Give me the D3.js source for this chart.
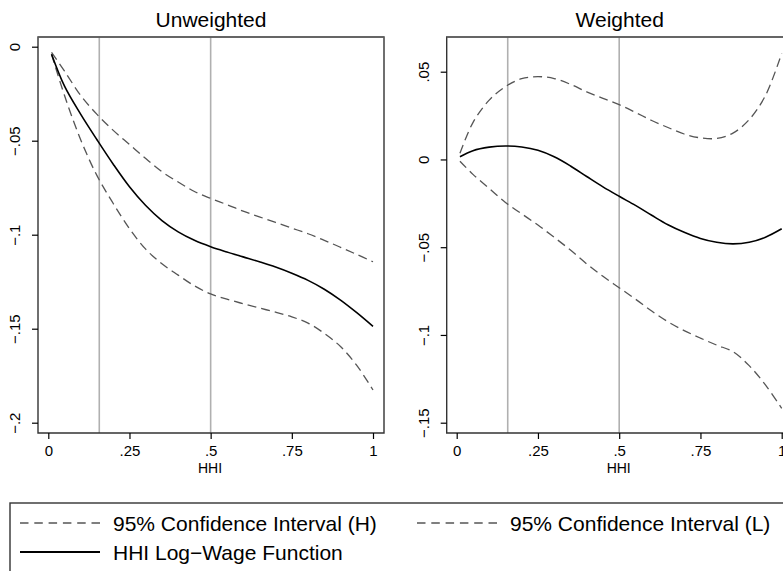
<!DOCTYPE html>
<html>
<head>
<meta charset="utf-8">
<script src="https://cdn.jsdelivr.net/npm/d3@7"></script>
<style>
  html, body { margin: 0; padding: 0; background: #fff; overflow: hidden; }
  svg { display: block; font-family: "Liberation Sans", Arial, Helvetica, sans-serif; }
</style>
</head>
<body>
<svg id="chart" width="783" height="571"></svg>
<script>
// ---- data ----
const hhi = [0.01, 0.05, 0.10, 0.15, 0.20, 0.25, 0.30, 0.35, 0.40, 0.45, 0.50,
             0.55, 0.60, 0.65, 0.70, 0.75, 0.80, 0.85, 0.90, 0.95, 1.00];

const unwMain = [-0.004, -0.021, -0.036, -0.0495, -0.0625, -0.0745, -0.0845, -0.0925, -0.0985, -0.1030, -0.1064,
                 -0.1092, -0.1118, -0.1144, -0.1172, -0.1205, -0.1243, -0.1290, -0.1348, -0.1415, -0.1488];
const unwHigh = [-0.003, -0.013, -0.026, -0.036, -0.0445, -0.052, -0.0595, -0.0665, -0.072, -0.077, -0.0807,
                 -0.084, -0.0875, -0.0905, -0.0935, -0.0965, -0.0995, -0.103, -0.1067, -0.1105, -0.1144];
const unwLow  = [-0.004, -0.026, -0.0496, -0.0686, -0.0834, -0.0968, -0.1077, -0.1155, -0.1215, -0.1272, -0.1315,
                 -0.1343, -0.1367, -0.139, -0.1412, -0.1437, -0.147, -0.1525, -0.1595, -0.1695, -0.1826];

const wMain = [0.0015, 0.0050, 0.0070, 0.0077, 0.0071, 0.0052, 0.0015, -0.0037, -0.0097, -0.0156, -0.0210,
               -0.0262, -0.0318, -0.0372, -0.0415, -0.0450, -0.0472, -0.0481, -0.0472, -0.0443, -0.0395];
const wHigh = [0.0035, 0.021, 0.0338, 0.0415, 0.046, 0.0472, 0.0461, 0.0428, 0.0385, 0.0348, 0.0312,
               0.0268, 0.0222, 0.0182, 0.0145, 0.0123, 0.0120, 0.0150, 0.0227, 0.0364, 0.0605];
const wLow  = [-0.001, -0.0085, -0.0165, -0.0245, -0.031, -0.0374, -0.0444, -0.0516, -0.0595, -0.0666, -0.0731,
               -0.0796, -0.0864, -0.0925, -0.0975, -0.1018, -0.1058, -0.1095, -0.1175, -0.1285, -0.1418];

const refLines = [0.157, 0.5];
const xTicks = [0, 0.25, 0.5, 0.75, 1];
const xTickLabels = ["0", ".25", ".5", ".75", "1"];
const unwYTicks = [0, -0.05, -0.1, -0.15, -0.2];
const unwYTickLabels = ["0", "\u2212.05", "\u2212.1", "\u2212.15", "\u2212.2"];
const wYTicks = [0.05, 0, -0.05, -0.1, -0.15];
const wYTickLabels = [".05", "0", "\u2212.05", "\u2212.1", "\u2212.15"];
const panelTitles = ["Unweighted", "Weighted"];
const xTitle = "HHI";
const legendLabels = ["95% Confidence Interval (H)", "95% Confidence Interval (L)", "HHI Log\u2212Wage Function"];

// ---- layout ----
const svg = d3.select("#chart");
const boxTop = 37, boxBottom = 433;

const panels = [
  { title: panelTitles[0], boxL: 38, boxR: 384, x0: 48.3, x1: 373,
    yDom: [0, -0.2], yRange: [46.7, 422.7], yTicks: unwYTicks, yLabels: unwYTickLabels,
    main: unwMain, high: unwHigh, low: unwLow },
  { title: panelTitles[1], boxL: 446.7, boxR: 792.7, x0: 456.7, x1: 781.7,
    yDom: [0.05, -0.15], yRange: [71.7, 422.7], yTicks: wYTicks, yLabels: wYTickLabels,
    main: wMain, high: wHigh, low: wLow }
];

const dashColor = "#555";
const dashPattern = "9,5";

panels.forEach(p => {
  const x = d3.scaleLinear().domain([0, 1]).range([p.x0, p.x1]);
  const y = d3.scaleLinear().domain(p.yDom).range(p.yRange);
  const g = svg.append("g");

  // reference lines
  g.selectAll("line.ref").data(refLines).join("line")
    .attr("class", "ref")
    .attr("x1", d => x(d)).attr("x2", d => x(d))
    .attr("y1", boxTop).attr("y2", boxBottom)
    .attr("stroke", "#b0b0b0").attr("stroke-width", 1.6);

  const line = d3.line()
    .x((d, i) => x(hhi[i]))
    .y(d => y(d))
    .curve(d3.curveCatmullRom.alpha(0.5));

  g.append("path").datum(p.high).attr("d", line)
    .attr("fill", "none").attr("stroke", dashColor).attr("stroke-width", 1.3)
    .attr("stroke-dasharray", dashPattern);
  g.append("path").datum(p.low).attr("d", line)
    .attr("fill", "none").attr("stroke", dashColor).attr("stroke-width", 1.3)
    .attr("stroke-dasharray", dashPattern);
  g.append("path").datum(p.main).attr("d", line)
    .attr("fill", "none").attr("stroke", "#000").attr("stroke-width", 1.6);

  // box border
  g.append("path")
    .attr("d", `M${p.boxL},${boxTop}H${p.boxR}V${boxBottom}H${p.boxL}Z`)
    .attr("fill", "none").attr("stroke", "#333").attr("stroke-width", 1.4);
  g.append("line")
    .attr("x1", p.boxL).attr("x2", p.boxR).attr("y1", boxTop).attr("y2", boxTop)
    .attr("stroke", "#666").attr("stroke-width", 1.4);

  // x axis
  const xAxis = d3.axisBottom(x).tickValues(xTicks)
    .tickFormat((d, i) => xTickLabels[i]).tickSize(6).tickPadding(4);
  const gx = g.append("g").attr("transform", `translate(0,${boxBottom})`).call(xAxis);
  gx.select(".domain").remove();
  gx.selectAll(".tick line").attr("stroke", "#000").attr("stroke-width", 1.2);
  gx.selectAll(".tick text").attr("font-size", 15).attr("fill", "#000")
    .attr("font-family", "Liberation Sans, Arial, sans-serif")
    .attr("y", 0).attr("dy", 0)
    .attr("transform", "translate(0,23)");

  // y axis
  const yAxis = d3.axisLeft(y).tickValues(p.yTicks)
    .tickFormat((d, i) => p.yLabels[i]).tickSize(6);
  const gy = g.append("g").attr("transform", `translate(${p.boxL},0)`).call(yAxis);
  gy.select(".domain").remove();
  gy.selectAll(".tick line").attr("stroke", "#000").attr("stroke-width", 1.2);
  gy.selectAll(".tick text").attr("font-size", 15).attr("fill", "#000")
    .attr("font-family", "Liberation Sans, Arial, sans-serif")
    .attr("x", 0).attr("y", 0).attr("dy", "0.35em")
    .attr("text-anchor", "middle")
    .attr("transform", "translate(-23,0) rotate(-90)");

  // titles
  g.append("text")
    .attr("x", (p.boxL + p.boxR) / 2).attr("y", 27)
    .attr("text-anchor", "middle").attr("font-size", 21).attr("fill", "#000")
    .text(p.title);
  g.append("text")
    .attr("x", (p.boxL + p.boxR) / 2 - 1).attr("y", 473)
    .attr("text-anchor", "middle").attr("font-size", 14).attr("fill", "#000")
    .text(xTitle);
});

// ---- legend ----
const lg = svg.append("g");
lg.append("rect").attr("x", 10).attr("y", 503).attr("width", 800).attr("height", 100)
  .attr("fill", "none").attr("stroke", "#333").attr("stroke-width", 1.4);

const legendItems = [
  { label: legendLabels[0], x: 20, y: 523, dashed: true },
  { label: legendLabels[1], x: 417, y: 523, dashed: true },
  { label: legendLabels[2], x: 20, y: 552, dashed: false }
];
legendItems.forEach(it => {
  lg.append("line").attr("x1", it.x).attr("x2", it.x + 80)
    .attr("y1", it.y).attr("y2", it.y)
    .attr("stroke", it.dashed ? dashColor : "#000")
    .attr("stroke-width", it.dashed ? 1.3 : 1.8)
    .attr("stroke-dasharray", it.dashed ? "8.5,5.8" : null);
  lg.append("text").attr("x", it.x + 93).attr("y", it.y).attr("dy", "0.36em")
    .attr("font-size", 21).attr("fill", "#000").text(it.label);
});
</script>
</body>
</html>
